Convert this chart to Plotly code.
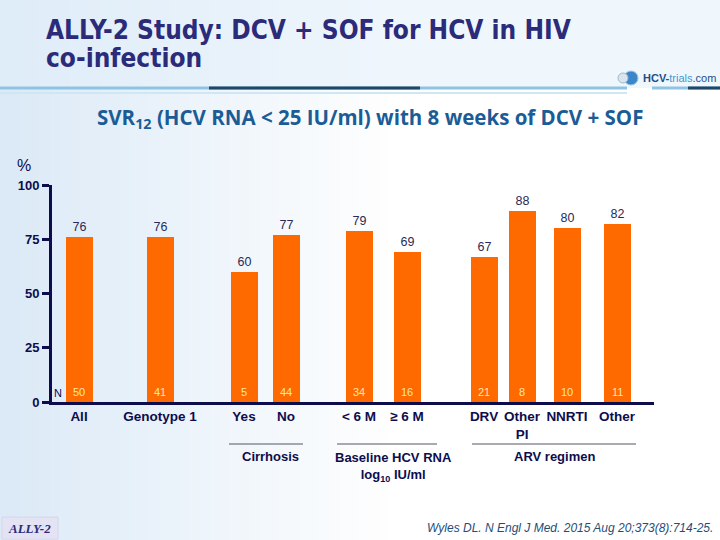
import plotly.graph_objects as go

# ---------------- data ----------------
categories = ["All", "Genotype 1", "Yes", "No", "< 6 M", "≥ 6 M",
              "DRV", "Other<br>PI", "NNRTI", "Other"]
svr_pct = [76, 76, 60, 77, 79, 69, 67, 88, 80, 82]
n_values = [50, 41, 5, 44, 34, 16, 21, 8, 10, 11]
y_ticks = [0, 25, 50, 75, 100]
groups = ["Cirrhosis", "Baseline HCV RNA<br>log<sub>10</sub> IU/ml", "ARV regimen"]
title_lines = ["ALLY-2 Study: DCV + SOF for HCV in HIV", "co-infection"]

# ---------------- layout helpers (pixel geometry) ----------------
W, H = 720, 540
PL, PR, PT, PB = 52, 654, 185, 402          # plot area in pixels
slot_px = [79, 160, 244, 286, 359, 407, 484, 522, 567, 617]  # bar centres (px)
xpos = [p - PL for p in slot_px]
bar_w = 27


def ppx(x):  # pixel -> paper coords (relative to plot domain)
    return (x - PL) / (PR - PL)


def ppy(y):
    return (PB - y) / (PB - PT)


NAVY = "#0D0D4D"
ORANGE = "#FF6A00"

fig = go.Figure()
fig.add_trace(go.Bar(
    x=xpos, y=svr_pct, width=bar_w,
    marker=dict(color=ORANGE, line=dict(width=0)),
    text=[str(v) for v in svr_pct], textposition="outside",
    textfont=dict(family="Arial", size=12.5, color="#2A2A55"),
    cliponaxis=False, hoverinfo="skip",
))

shapes = []
# background gradient (light blue on left fading to white)
nstrip = 40
for i in range(nstrip):
    t = i / (nstrip - 1)
    r = int(220 + (255 - 220) * t)
    g = int(234 + (255 - 234) * t)
    b = int(247 + (255 - 247) * t)
    shapes.append(dict(type="rect", xref="paper", yref="paper", layer="below",
                       x0=ppx(i * 10 - 0.5), x1=ppx(i * 10 + 10.5),
                       y0=ppy(H), y1=ppy(0), line=dict(width=0),
                       fillcolor=f"rgb({r},{g},{b})"))
# top band slightly blue
shapes.append(dict(type="rect", xref="paper", yref="paper", layer="below",
                   x0=ppx(0), x1=ppx(W), y0=ppy(88), y1=ppy(0), line=dict(width=0),
                   fillcolor="rgba(225,238,250,0.55)"))
# header lines
for x0, x1, col, yy, wd in [(0, 627, "#8FC3E2", 88, 3), (652, W, "#8FC3E2", 88, 3),
                            (209, 420, "#1F4664", 88, 3), (688, W, "#1F4664", 88, 3),
                            (0, 627, "#CFE6F4", 93, 2)]:
    shapes.append(dict(type="line", xref="paper", yref="paper", x0=ppx(x0), x1=ppx(x1),
                       y0=ppy(yy), y1=ppy(yy), line=dict(color=col, width=wd)))
# logo icon
shapes.append(dict(type="circle", xref="paper", yref="paper",
                   x0=ppx(624), x1=ppx(638), y0=ppy(85), y1=ppy(71),
                   fillcolor="#3A86C8", line=dict(color="#9DC4E6", width=1)))
shapes.append(dict(type="circle", xref="paper", yref="paper",
                   x0=ppx(618), x1=ppx(628), y0=ppy(83), y1=ppy(73),
                   fillcolor="#D8E4EE", line=dict(color="#A9B9C9", width=1)))
# footer box
shapes.append(dict(type="rect", xref="paper", yref="paper",
                   x0=ppx(2), x1=ppx(58), y0=ppy(539), y1=ppy(517),
                   fillcolor="#E3E3F3", line=dict(color="#D6D6EA", width=1)))
# group bracket lines
for x0, x1 in [(229, 303), (337, 437), (472, 636)]:
    shapes.append(dict(type="line", xref="paper", yref="paper",
                       x0=ppx(x0), x1=ppx(x1), y0=ppy(444), y1=ppy(444),
                       line=dict(color="#555566", width=1)))

annotations = []
# title (two lines)
for line, yc in zip(title_lines, [30, 58]):
    annotations.append(dict(text=line, xref="paper", yref="paper", x=ppx(44), y=ppy(yc),
                            xanchor="left", yanchor="middle", align="left", showarrow=False,
                            font=dict(family="DejaVu Sans Condensed", size=26,
                                      color="#2B2B7A", weight="bold")))
# logo text
annotations.append(dict(text="<b>HCV-</b><span style='color:#3D9AD6'>trials</span>.com",
                        xref="paper", yref="paper", x=ppx(641), y=ppy(78),
                        xanchor="left", yanchor="middle", showarrow=False,
                        font=dict(family="Arial", size=11, color="#1D4F8A")))
# subtitle
annotations.append(dict(text="SVR<sub>12</sub> (HCV RNA < 25 IU/ml) with 8 weeks of DCV + SOF",
                        xref="paper", yref="paper", x=ppx(95), y=ppy(118),
                        xanchor="left", yanchor="middle", showarrow=False,
                        font=dict(family="Open Sans", size=20.5, color="#1B5C96", weight="bold")))
# percent sign
annotations.append(dict(text="%", xref="paper", yref="paper", x=ppx(24), y=ppy(165),
                        xanchor="center", yanchor="middle", showarrow=False,
                        font=dict(family="Arial", size=16, color=NAVY)))
# N label and N values
annotations.append(dict(text="N", xref="paper", yref="paper", x=ppx(58), y=ppy(393),
                        xanchor="center", yanchor="middle", showarrow=False,
                        font=dict(family="Arial", size=11, color=NAVY)))
for x, n in zip(xpos, n_values):
    annotations.append(dict(text=str(n), x=x, y=0, xref="x", yref="y",
                            yanchor="bottom", yshift=2, showarrow=False,
                            font=dict(family="Arial", size=11, color="#FFE6A8")))
# group labels
for gx, gy, ya, g in [(270, 456, "middle", groups[0]), (394, 448, "top", groups[1]),
                      (554, 456, "middle", groups[2])]:
    annotations.append(dict(text="<b>" + g + "</b>", xref="paper", yref="paper",
                            x=ppx(gx), y=ppy(gy), xanchor="center", yanchor=ya,
                            showarrow=False, align="center",
                            font=dict(family="Arial", size=13, color=NAVY)))
# footer
annotations.append(dict(text="<b><i>ALLY-2</i></b>", xref="paper", yref="paper",
                        x=ppx(30), y=ppy(528), xanchor="center", yanchor="middle",
                        showarrow=False,
                        font=dict(family="Liberation Serif", size=13, color="#2B2B7A")))
annotations.append(dict(text="<i>Wyles DL. N Engl J Med. 2015 Aug 20;373(8):714-25.</i>",
                        xref="paper", yref="paper", x=ppx(715), y=ppy(528),
                        xanchor="right", yanchor="middle", showarrow=False,
                        font=dict(family="Arial", size=12, color="#1F4E79")))

fig.update_layout(
    width=W, height=H,
    margin=dict(l=PL, r=W - PR, t=PT, b=H - PB, pad=0),
    paper_bgcolor="white", plot_bgcolor="rgba(0,0,0,0)",
    showlegend=False, bargap=0,
    shapes=shapes, annotations=annotations,
    xaxis=dict(range=[0, PR - PL], tickvals=xpos, ticktext=["<b>" + c + "</b>" for c in categories],
               showgrid=False, zeroline=False, showline=True, linecolor=NAVY, linewidth=3,
               ticks="", tickfont=dict(family="Arial", size=13.5, color=NAVY),
               fixedrange=True),
    yaxis=dict(range=[0, 100], tickvals=y_ticks, ticktext=["<b>%d</b>" % v for v in y_ticks],
               showgrid=False, zeroline=False, showline=True, linecolor=NAVY, linewidth=3,
               ticks="outside", ticklen=7, tickwidth=3, tickcolor=NAVY,
               tickfont=dict(family="Arial", size=13, color=NAVY), fixedrange=True),
)

fig.write_html("out.html", config={"displayModeBar": False},
               post_script="document.body.style.margin='0';")
